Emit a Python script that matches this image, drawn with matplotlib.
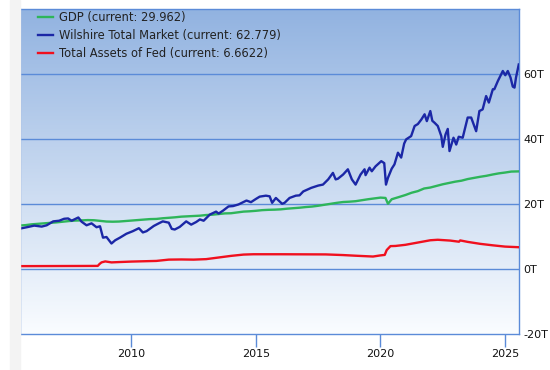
import numpy as np
import matplotlib
matplotlib.use('Agg')
import matplotlib.pyplot as plt
from matplotlib.patches import Rectangle

plt.rcParams['font.family'] = ['DejaVu Sans']

# GDP, quarterly (trillions)
gdp_t = [2005.5, 2005.75, 2006.0, 2006.25, 2006.5, 2006.75, 2007.0, 2007.25, 2007.5, 2007.75,
         2008.0, 2008.25, 2008.5, 2008.75, 2009.0, 2009.25, 2009.5, 2009.75, 2010.0, 2010.25,
         2010.5, 2010.75, 2011.0, 2011.25, 2011.5, 2011.75, 2012.0, 2012.25, 2012.5, 2012.75,
         2013.0, 2013.25, 2013.5, 2013.75, 2014.0, 2014.25, 2014.5, 2014.75, 2015.0, 2015.25,
         2015.5, 2015.75, 2016.0, 2016.25, 2016.5, 2016.75, 2017.0, 2017.25, 2017.5, 2017.75,
         2018.0, 2018.25, 2018.5, 2018.75, 2019.0, 2019.25, 2019.5, 2019.75, 2020.0, 2020.2,
         2020.3, 2020.45, 2020.75, 2021.0, 2021.25, 2021.5, 2021.75, 2022.0, 2022.25, 2022.5,
         2022.75, 2023.0, 2023.25, 2023.5, 2023.75, 2024.0, 2024.25, 2024.5, 2024.75, 2025.0,
         2025.25, 2025.55]
gdp_v = [13.3, 13.45, 13.7, 13.85, 14.0, 14.15, 14.3, 14.5, 14.7, 14.85,
         14.9, 15.0, 14.95, 14.75, 14.55, 14.5, 14.55, 14.7, 14.85, 15.0,
         15.15, 15.3, 15.35, 15.55, 15.7, 15.85, 16.05, 16.15, 16.25, 16.35,
         16.55, 16.65, 16.85, 17.05, 17.1, 17.35, 17.6, 17.7, 17.85, 18.05,
         18.15, 18.2, 18.3, 18.5, 18.65, 18.8, 19.0, 19.15, 19.4, 19.7,
         20.0, 20.3, 20.55, 20.65, 20.8, 21.1, 21.4, 21.65, 21.9, 21.8,
         20.0, 21.4, 22.1, 22.7, 23.4, 23.9, 24.7, 25.0, 25.5, 26.0,
         26.4, 26.8, 27.1, 27.6, 27.95, 28.3, 28.6, 29.0, 29.35, 29.6,
         29.9, 29.96]

# Wilshire Total Market (trillions)
wil_t = [2005.54, 2005.8, 2006.1, 2006.4, 2006.6, 2006.86, 2007.1, 2007.3, 2007.46, 2007.6,
         2007.87, 2008.0, 2008.2, 2008.4, 2008.6, 2008.74, 2008.86, 2009.0, 2009.2, 2009.35,
         2009.54, 2009.8, 2010.06, 2010.3, 2010.46, 2010.61, 2010.9, 2011.1, 2011.26, 2011.5,
         2011.62, 2011.74, 2011.94, 2012.2, 2012.4, 2012.6, 2012.75, 2012.9, 2013.15, 2013.4,
         2013.5, 2013.68, 2013.9, 2014.08, 2014.3, 2014.62, 2014.8, 2015.0, 2015.15, 2015.4,
         2015.55, 2015.65, 2015.8, 2016.05, 2016.15, 2016.35, 2016.6, 2016.75, 2016.9, 2017.22,
         2017.5, 2017.69, 2017.9, 2018.09, 2018.2, 2018.29, 2018.5, 2018.69, 2018.85, 2019.0,
         2019.2, 2019.36, 2019.4, 2019.56, 2019.65, 2019.8, 2020.03, 2020.15, 2020.22, 2020.3,
         2020.45, 2020.56, 2020.7, 2020.83, 2020.95, 2021.03, 2021.23, 2021.37, 2021.5, 2021.64,
         2021.77, 2021.86, 2022.0, 2022.08, 2022.17, 2022.3, 2022.44, 2022.5, 2022.61, 2022.7,
         2022.77, 2022.93, 2023.04, 2023.14, 2023.3, 2023.5, 2023.64, 2023.84, 2023.97, 2024.1,
         2024.24, 2024.35, 2024.51, 2024.57, 2024.71, 2024.91, 2025.01, 2025.11, 2025.22, 2025.31,
         2025.38, 2025.44, 2025.55]
wil_v = [12.4, 12.8, 13.3, 13.0, 13.4, 14.6, 14.8, 15.4, 15.5, 14.8,
         15.8, 14.5, 13.4, 14.0, 12.8, 13.1, 9.6, 9.8, 7.8, 8.8,
         9.6, 10.8, 11.6, 12.5, 11.2, 11.6, 13.2, 14.0, 14.6, 14.2,
         12.3, 12.1, 12.9, 14.6, 13.6, 14.4, 15.2, 14.8, 16.7, 17.6,
         17.0, 17.9, 19.2, 19.3, 19.8, 21.0, 20.5, 21.5, 22.2, 22.5,
         22.3, 20.3, 21.8, 20.0, 20.3, 21.8, 22.5, 22.6, 23.8, 24.9,
         25.6, 25.9, 27.5, 29.5, 27.5, 27.7, 29.0, 30.6, 27.5, 25.9,
         29.0, 30.6, 28.8, 31.1, 30.0, 31.5, 33.1, 32.5, 25.9, 28.0,
         30.8, 32.1, 35.7, 34.2, 38.5, 39.8, 40.8, 43.9, 44.5, 45.9,
         47.5, 45.4, 48.5, 45.5, 44.9, 43.9, 40.8, 37.5, 41.3, 43.0,
         36.2, 40.3, 38.2, 40.6, 40.3, 46.5, 46.5, 42.3, 48.5, 49.0,
         53.1, 51.1, 55.2, 55.2, 57.7, 60.8, 59.5, 60.8, 58.8, 56.0,
         55.7, 58.8, 62.8]

# Total assets of Fed (trillions)
fed_t = [2005.54, 2007.0, 2008.0, 2008.65, 2008.72, 2008.8, 2008.95, 2009.2, 2009.5, 2010.0,
         2010.5, 2011.0, 2011.5, 2012.0, 2012.5, 2013.0, 2013.5, 2014.0, 2014.5, 2014.9,
         2016.0, 2017.8, 2018.5, 2019.0, 2019.7, 2020.0, 2020.17, 2020.25, 2020.4, 2020.6,
         2021.0, 2021.5, 2022.0, 2022.3, 2022.8, 2023.15, 2023.2, 2023.5, 2024.0, 2024.5,
         2025.0, 2025.55]
fed_v = [0.85, 0.88, 0.9, 0.92, 1.5, 2.0, 2.3, 2.0, 2.1, 2.25,
         2.35, 2.45, 2.85, 2.9, 2.85, 3.0, 3.5, 4.0, 4.4, 4.5,
         4.5, 4.45, 4.25, 4.05, 3.8, 4.15, 4.3, 5.8, 7.0, 7.05,
         7.4, 8.1, 8.8, 8.95, 8.7, 8.35, 8.75, 8.3, 7.7, 7.25,
         6.85, 6.66]

grid_c = '#5b8bd8'

fig = plt.figure(figsize=(5.5, 3.7), dpi=100)
fig.patches.append(Rectangle((10 / 550, 0), 10 / 550, 1, transform=fig.transFigure,
                             color='#f3f3f3', zorder=0))
ax = fig.add_axes([20.3 / 550, 36 / 370, (519 - 20.3) / 550, (334 - 8.5) / 370])

x0, x1 = 2005.54, 2025.56
y0, y1 = -20, 80
ax.set_xlim(x0, x1)
ax.set_ylim(y0, y1)

# background gradient, darker blue at the top
grad = np.linspace(0, 1, 256).reshape(-1, 1)
top = np.array([0.57, 0.70, 0.88])
bot = np.array([0.98, 0.99, 1.0])
img = top + (bot - top) * grad
ax.imshow(img[:, None, :].repeat(2, axis=1), extent=[x0, x1, y0, y1], aspect='auto',
          zorder=0, origin='upper')

for y in [0, 20, 40, 60]:
    ax.axhline(y, color=grid_c, lw=1, zorder=1)

ax.plot(gdp_t, gdp_v, color='#2eb55a', lw=1.7, zorder=3,
        label='GDP (current: 29.962)')
ax.plot(wil_t, wil_v, color='#1b27a6', lw=1.7, zorder=4,
        label='Wilshire Total Market (current: 62.779)')
ax.plot(fed_t, fed_v, color='#f0101e', lw=1.7, zorder=3,
        label='Total Assets of Fed (current: 6.6622)')

ax.set_xticks([2010, 2015, 2020, 2025])
ax.set_yticks([-20, 0, 20, 40, 60])
ax.set_yticklabels(['-20T', '0T', '20T', '40T', '60T'])
ax.yaxis.tick_right()
ax.tick_params(axis='y', length=0, pad=3, labelsize=8, colors='#111111')
ax.tick_params(axis='x', length=9, width=1, color=grid_c, pad=1.5, labelsize=8,
               labelcolor='#111111')
for s in ax.spines.values():
    s.set_color(grid_c)
    s.set_linewidth(1)

leg = ax.legend(loc='upper left', frameon=False, fontsize=8.3, handlelength=1.3,
                handletextpad=0.5, borderaxespad=0.0, borderpad=0.0, labelspacing=0.45,
                bbox_to_anchor=(0.036, 0.993))
for t in leg.get_texts():
    t.set_color('#222222')

fig.savefig('out.png', dpi=100)
